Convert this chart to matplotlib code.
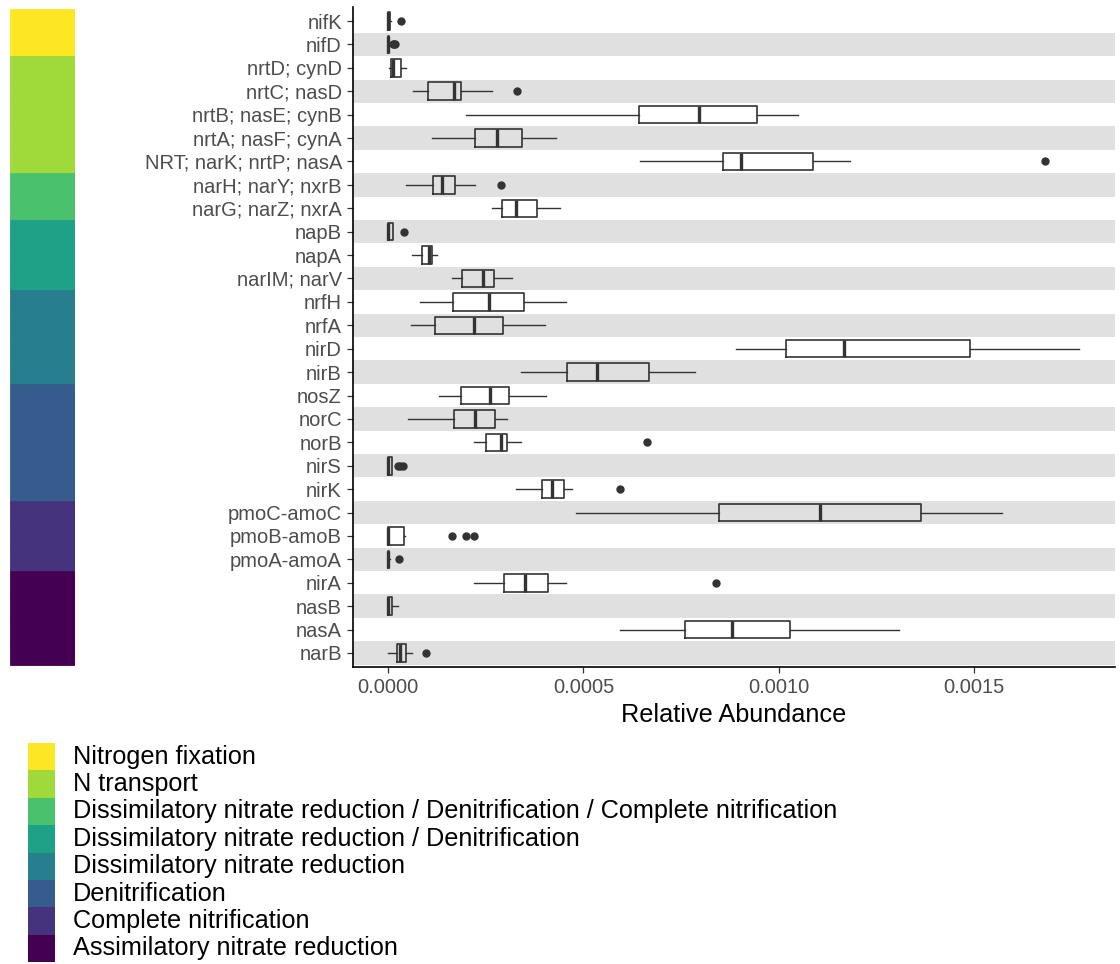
import matplotlib
matplotlib.use("Agg")
import matplotlib.pyplot as plt

plt.rcParams["font.family"] = ["Liberation Sans", "DejaVu Sans"]

# genes from top to bottom, with their pathway
genes = [
    "nifK", "nifD", "nrtD; cynD", "nrtC; nasD", "nrtB; nasE; cynB", "nrtA; nasF; cynA",
    "NRT; narK; nrtP; nasA", "narH; narY; nxrB", "narG; narZ; nxrA", "napB", "napA",
    "narIM; narV", "nrfH", "nrfA", "nirD", "nirB", "nosZ", "norC", "norB", "nirS", "nirK",
    "pmoC-amoC", "pmoB-amoB", "pmoA-amoA", "nirA", "nasB", "nasA", "narB",
]
pathway = [
    "Nitrogen fixation", "Nitrogen fixation",
    "N transport", "N transport", "N transport", "N transport", "N transport",
    "Dissimilatory nitrate reduction / Denitrification / Complete nitrification",
    "Dissimilatory nitrate reduction / Denitrification / Complete nitrification",
    "Dissimilatory nitrate reduction / Denitrification",
    "Dissimilatory nitrate reduction / Denitrification",
    "Dissimilatory nitrate reduction / Denitrification",
    "Dissimilatory nitrate reduction", "Dissimilatory nitrate reduction",
    "Dissimilatory nitrate reduction", "Dissimilatory nitrate reduction",
    "Denitrification", "Denitrification", "Denitrification", "Denitrification", "Denitrification",
    "Complete nitrification", "Complete nitrification", "Complete nitrification",
    "Assimilatory nitrate reduction", "Assimilatory nitrate reduction",
    "Assimilatory nitrate reduction", "Assimilatory nitrate reduction",
]

# box statistics
whislo = [0, 0, 1e-6, 6.3e-5, 2.0e-4, 1.12e-4, 6.44e-4, 4.6e-5, 2.65e-4, 0, 6.0e-5,
          1.63e-4, 8.0e-5, 5.9e-5, 8.90e-4, 3.39e-4, 1.31e-4, 5.1e-5, 2.20e-4, 0, 3.27e-4,
          4.81e-4, 0, 0, 2.20e-4, 0, 5.95e-4, 0]
q1 = [0, 0, 7e-6, 1.01e-4, 6.42e-4, 2.23e-4, 8.58e-4, 1.15e-4, 2.91e-4, 0, 8.7e-5,
      1.90e-4, 1.66e-4, 1.19e-4, 1.020e-3, 4.58e-4, 1.87e-4, 1.69e-4, 2.50e-4, 0, 3.94e-4,
      8.48e-4, 0, 0, 2.97e-4, 0, 7.61e-4, 2.1e-5]
med = [0, 0, 1.1e-5, 1.69e-4, 7.96e-4, 2.78e-4, 9.04e-4, 1.38e-4, 3.27e-4, 0, 1.03e-4,
       2.42e-4, 2.59e-4, 2.20e-4, 1.168e-3, 5.34e-4, 2.61e-4, 2.22e-4, 2.89e-4, 0, 4.19e-4,
       1.107e-3, 0, 0, 3.50e-4, 0, 8.81e-4, 3.0e-5]
q3 = [4e-6, 3e-6, 3.3e-5, 1.86e-4, 9.45e-4, 3.42e-4, 1.088e-3, 1.70e-4, 3.82e-4, 1.2e-5, 1.12e-4,
      2.71e-4, 3.48e-4, 2.94e-4, 1.491e-3, 6.68e-4, 3.09e-4, 2.73e-4, 3.03e-4, 1.0e-5, 4.49e-4,
      1.364e-3, 3.9e-5, 3e-6, 4.09e-4, 1.0e-5, 1.029e-3, 4.5e-5]
whishi = [6e-6, 5e-6, 4.5e-5, 2.67e-4, 1.051e-3, 4.29e-4, 1.182e-3, 2.22e-4, 4.40e-4, 1.2e-5, 1.26e-4,
          3.16e-4, 4.55e-4, 4.02e-4, 1.771e-3, 7.85e-4, 4.05e-4, 3.04e-4, 3.39e-4, 1.0e-5, 4.72e-4,
          1.574e-3, 4.2e-5, 5e-6, 4.56e-4, 2.6e-5, 1.308e-3, 6.0e-5]
outliers = [[3.2e-5], [1.1e-5, 1.5e-5, 1.8e-5], [], [3.29e-4], [], [], [1.684e-3], [2.88e-4], [],
            [4.1e-5], [], [], [], [], [], [], [], [], [6.64e-4], [2.4e-5, 3.0e-5, 3.7e-5],
            [5.93e-4], [], [1.63e-4, 1.99e-4, 2.20e-4], [2.7e-5], [8.40e-4], [], [], [9.6e-5]]

pathways = [
    "Nitrogen fixation",
    "N transport",
    "Dissimilatory nitrate reduction / Denitrification / Complete nitrification",
    "Dissimilatory nitrate reduction / Denitrification",
    "Dissimilatory nitrate reduction",
    "Denitrification",
    "Complete nitrification",
    "Assimilatory nitrate reduction",
]
pathway_colors = ["#FDE725", "#9FDA3A", "#4AC16D", "#1FA187",
                  "#277F8E", "#365C8D", "#46337E", "#440154"]

x_ticks = [0.0, 0.0005, 0.0010, 0.0015]

W, H = 1120, 964
fig = plt.figure(figsize=(W / 100, H / 100), dpi=100)


def px_axes(left, top, right, bottom):
    return fig.add_axes([left / W, 1 - bottom / H, (right - left) / W, (bottom - top) / H])


n = len(genes)
ypos = [n - 1 - i for i in range(n)]
line_col = "#333333"

# main boxplot panel
ax = px_axes(353, 7, 1115, 667)
for i, y in enumerate(ypos):
    if i % 2 == 1:
        ax.axhspan(y - 0.5, y + 0.5, color="#E0E0E0", lw=0, zorder=0)

stats = []
for i in range(n):
    stats.append(dict(label=genes[i], whislo=whislo[i], q1=q1[i], med=med[i],
                      q3=q3[i], whishi=whishi[i], fliers=outliers[i]))

ax.bxp(stats, positions=ypos, widths=0.75, orientation="horizontal", showcaps=False,
       boxprops=dict(color=line_col, lw=1.2),
       whiskerprops=dict(color=line_col, lw=1.0),
       medianprops=dict(color=line_col, lw=2.4),
       flierprops=dict(marker="o", markerfacecolor=line_col, markeredgecolor=line_col,
                       markersize=5, linestyle="none"))

ax.set_ylim(-0.6, n - 0.4)
ax.set_xlim(-9.05e-5, 1.8624e-3)
ax.set_yticks(ypos)
ax.set_yticklabels(genes)
ax.set_xticks(x_ticks)
ax.set_xticklabels([f"{v:.4f}" for v in x_ticks])
ax.tick_params(axis="both", color=line_col, length=4.5, width=0.9,
               labelsize=14.5, labelcolor="#4D4D4D", pad=3.5)
for s in ["top", "right"]:
    ax.spines[s].set_visible(False)
for s in ["left", "bottom"]:
    ax.spines[s].set_color("black")
    ax.spines[s].set_linewidth(1.2)
ax.set_xlabel("Relative Abundance", fontsize=18.2, color="black", labelpad=4)

# pathway colour strip
ax_s = px_axes(10, 7, 75, 667)
strip_cols = [pathway_colors[pathways.index(p)] for p in pathway]
ax_s.barh(ypos, 1, height=1, left=0, color=strip_cols, edgecolor=strip_cols, lw=0.6)
ax_s.set_xlim(0, 1)
ax_s.set_ylim(-0.6, n - 0.4)
ax_s.axis("off")

# legend
ax_l = px_axes(28, 743, 55, 962)
ax_l.barh(range(len(pathways)), 1, height=1, left=0, color=pathway_colors, lw=0)
ax_l.set_xlim(0, 1)
ax_l.set_ylim(len(pathways) - 0.5, -0.5)
ax_l.axis("off")
for i, name in enumerate(pathways):
    ax_l.text(1.667, i, name, fontsize=18.2, va="center", ha="left", clip_on=False)

fig.savefig("out.png", dpi=100)
